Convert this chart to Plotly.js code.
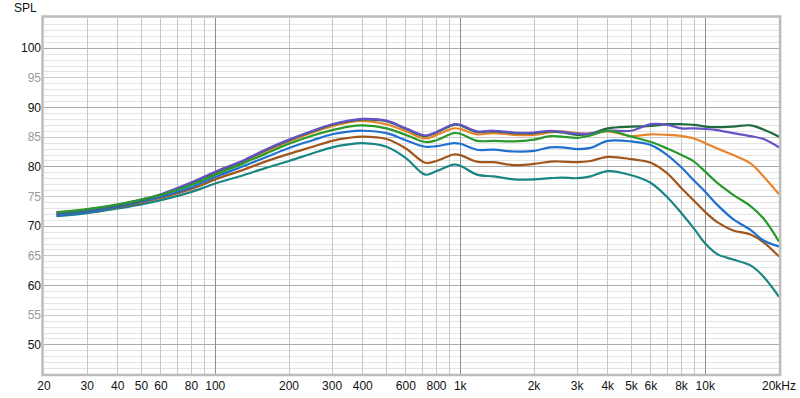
<!DOCTYPE html>
<html><head><meta charset="utf-8">
<script src="https://cdn.plot.ly/plotly-3.0.1.min.js"></script>
<style>html,body{margin:0;padding:0;background:#fff}#chart{width:800px;height:398px}</style>
</head><body><div id="chart"></div>
<script>
const freq = [22.5, 30, 40, 50, 60, 80, 100, 130, 160, 200, 250, 300, 350, 400, 500, 600, 720, 800, 940, 1000, 1170, 1370, 1660, 2000, 2330, 2600, 3000, 3400, 4000, 5000, 6000, 7000, 8000, 9000, 10000, 11200, 13000, 15300, 17300, 20000];
const purple = [72.3, 72.8, 73.6, 74.5, 75.4, 77.4, 79.2, 81.1, 82.9, 84.6, 86.1, 87.2, 87.8, 88.1, 87.8, 86.5, 85.3, 85.9, 87.2, 87.1, 86.0, 86.1, 85.8, 85.8, 86.1, 85.9, 85.6, 85.6, 86.1, 86.1, 87.2, 87.1, 86.5, 86.5, 86.4, 86.2, 85.7, 85.2, 84.7, 83.3];
const darkGreen = [72.2, 72.7, 73.5, 74.4, 75.3, 77.3, 79.1, 81.0, 82.8, 84.5, 86.0, 87.1, 87.7, 88.0, 87.7, 86.4, 85.2, 85.8, 87.1, 87.0, 85.9, 86.0, 85.7, 85.7, 86.0, 85.8, 85.4, 85.6, 86.5, 86.8, 86.9, 87.2, 87.2, 87.1, 86.8, 86.7, 86.8, 87.0, 86.3, 85.1];
const orange = [72.3, 72.8, 73.6, 74.5, 75.3, 77.2, 79.0, 80.9, 82.6, 84.3, 85.8, 86.85, 87.5, 87.75, 87.2, 86.0, 84.8, 85.4, 86.5, 86.4, 85.5, 85.7, 85.4, 85.4, 85.8, 86.0, 85.7, 85.6, 86.0, 85.2, 85.5, 85.4, 85.2, 84.8, 84.0, 83.1, 82.0, 80.6, 78.4, 75.4];
const green = [72.4, 72.9, 73.7, 74.5, 75.3, 77.0, 78.7, 80.6, 82.2, 83.9, 85.3, 86.2, 86.8, 87.0, 86.5, 85.4, 84.2, 84.5, 85.7, 85.6, 84.4, 84.4, 84.3, 84.6, 85.2, 85.1, 84.9, 85.3, 86.1, 85.1, 84.2, 83.1, 82.0, 80.9, 79.2, 77.3, 75.3, 73.4, 71.3, 67.4];
const blue = [71.8, 72.4, 73.3, 74.2, 75.0, 76.6, 78.3, 80.1, 81.6, 83.2, 84.5, 85.5, 85.95, 86.1, 85.7, 84.5, 83.4, 83.5, 84.0, 83.9, 82.9, 82.9, 82.6, 82.7, 83.3, 83.3, 83.0, 83.2, 84.4, 84.3, 83.7, 82.0, 79.9, 77.7, 75.8, 73.6, 71.2, 69.4, 67.6, 66.6];
const brown = [71.9, 72.4, 73.2, 74.0, 74.8, 76.3, 77.9, 79.5, 80.9, 82.2, 83.4, 84.4, 84.9, 85.1, 84.7, 83.1, 80.7, 81.0, 82.1, 82.0, 80.9, 80.8, 80.3, 80.5, 80.9, 80.9, 80.8, 81.0, 81.7, 81.3, 80.7, 78.9, 76.4, 74.3, 72.4, 70.7, 69.3, 68.6, 67.3, 64.9];
const teal = [71.7, 72.2, 73.0, 73.7, 74.4, 75.8, 77.2, 78.6, 79.8, 81.0, 82.3, 83.3, 83.8, 84.0, 83.4, 81.5, 78.7, 79.3, 80.4, 80.2, 78.7, 78.4, 77.9, 77.9, 78.1, 78.2, 78.1, 78.4, 79.3, 78.6, 77.3, 74.9, 72.2, 69.6, 67.1, 65.3, 64.4, 63.4, 61.5, 58.1];

const xGridVals = [20,30,40,50,60,70,80,90,100,200,300,400,500,600,700,800,900,1000,2000,3000,4000,5000,6000,7000,8000,9000,10000,20000];
const xGridText = ['20','30','40','50','60','','80','','100','200','300','400','','600','','800','','1k','2k','3k','4k','5k','6k','','8k','','10k','20kHz'];
const xDecades = [100,1000,10000];
const yTickVals = [50,55,60,65,70,75,80,85,90,95,100];
const yTens = [50,60,70,80,90,100];

const series = [
  {name:'teal', y:teal, color:'#1a8585'},
  {name:'brown', y:brown, color:'#a0561c'},
  {name:'blue', y:blue, color:'#2070d0'},
  {name:'orange', y:orange, color:'#e8842c'},
  {name:'darkGreen', y:darkGreen, color:'#1d6b3e'},
  {name:'purple', y:purple, color:'#6652c6'},
  {name:'green', y:green, color:'#2a9a2e'}
];

const traces = series.map(s => ({
  type:'scatter', mode:'lines', x:freq, y:s.y, name:s.name,
  line:{color:s.color, width:2.2, shape:'spline', smoothing:1}, hoverinfo:'skip'
}));
traces.push({type:'scatter', mode:'lines', x:[], y:[], xaxis:'x2', yaxis:'y', hoverinfo:'skip', showlegend:false});
traces.push({type:'scatter', mode:'lines', x:[], y:[], xaxis:'x', yaxis:'y2', hoverinfo:'skip', showlegend:false});

const xr = [Math.log10(20), Math.log10(20000)];
const yr = [45.1, 105.1];
const yText = yTickVals.map(v => (v % 10 === 0) ? String(v) : '<span style="color:#9a9a9a">' + v + '</span>');

const layout = {
  width:800, height:398,
  margin:{l:44, r:21, t:18, b:24},
  paper_bgcolor:'#ffffff', plot_bgcolor:'#ffffff',
  showlegend:false,
  font:{family:'Liberation Sans, Arial, sans-serif', size:12, color:'#111'},
  xaxis:{type:'log', range:xr, tickmode:'array', tickvals:xGridVals, ticktext:xGridText,
    showgrid:true, gridcolor:'#c6c6c6', gridwidth:1, zeroline:false, showline:false, ticks:'',
    ticklabelstandoff:3, tickfont:{size:12, color:'#111'}, fixedrange:true},
  xaxis2:{type:'log', range:xr, overlaying:'x', anchor:'y', tickmode:'array', tickvals:xDecades,
    showticklabels:false, showgrid:true, gridcolor:'#8e8e8e', gridwidth:1, zeroline:false, showline:false, ticks:''},
  yaxis:{range:yr, tickmode:'array', tickvals:yTickVals, ticktext:yText,
    showgrid:true, gridcolor:'#cacaca', gridwidth:1, zeroline:false, showline:false, ticks:'',
    ticklabelstandoff:2, tickfont:{size:12, color:'#111'},
    minor:{tickmode:'linear', tick0:0, dtick:1, showgrid:true, gridcolor:'#e4e4e4', gridwidth:1, ticks:''}},
  yaxis2:{range:yr, overlaying:'y', anchor:'x', side:'left', tickmode:'array', tickvals:yTens,
    showticklabels:false, showgrid:true, gridcolor:'#ababab', gridwidth:1, zeroline:false, showline:false, ticks:''},
  shapes:[
    {type:'rect', xref:'paper', yref:'paper', x0:-0.002, x1:1.0015, y0:-0.003, y1:1.004,
      line:{color:'#bcbcbc', width:2.5}, layer:'above'}
  ],
  annotations:[
    {text:'SPL', xref:'paper', yref:'paper', x:0, y:1, xanchor:'right', yanchor:'bottom',
      xshift:-5, yshift:1, showarrow:false, font:{size:12, color:'#111'}}
  ]
};

Plotly.newPlot('chart', traces, layout, {displayModeBar:false, staticPlot:true});
</script>
</body></html>
